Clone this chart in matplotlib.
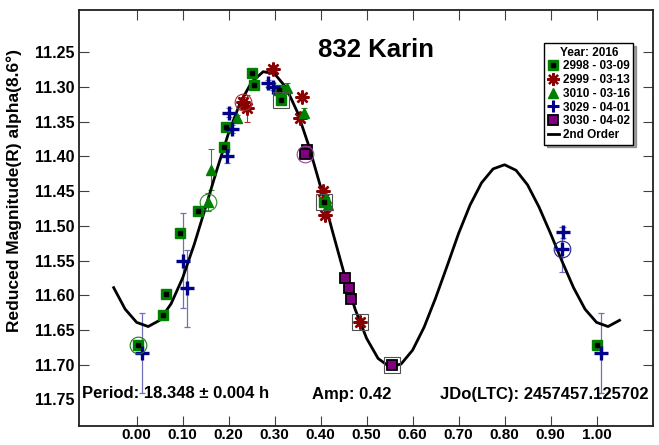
import matplotlib
matplotlib.use("Agg")
import matplotlib.pyplot as plt
from matplotlib.lines import Line2D

plt.rcParams['font.family'] = ['Liberation Sans', 'DejaVu Sans']
plt.rcParams['font.weight'] = 'bold'

# ---- fitted curve (2nd order) ----
curve_phase = [-0.05, -0.025, 0.0, 0.025, 0.05, 0.075, 0.1, 0.125, 0.15, 0.175,
               0.2, 0.225, 0.25, 0.275, 0.3, 0.325, 0.35, 0.375, 0.4, 0.425,
               0.45, 0.475, 0.5, 0.525, 0.55, 0.575, 0.6, 0.625, 0.65, 0.675,
               0.7, 0.725, 0.75, 0.775, 0.8, 0.825, 0.85, 0.875, 0.9, 0.925,
               0.95, 0.975, 1.0, 1.025, 1.05]
curve_mag = [11.589, 11.620, 11.639, 11.645, 11.636, 11.612, 11.575, 11.527, 11.473, 11.418,
             11.366, 11.323, 11.293, 11.278, 11.281, 11.301, 11.337, 11.386, 11.444, 11.506,
             11.566, 11.620, 11.662, 11.691, 11.703, 11.699, 11.679, 11.646, 11.604, 11.558,
             11.511, 11.470, 11.438, 11.418, 11.412, 11.420, 11.441, 11.473, 11.511, 11.551,
             11.589, 11.620, 11.639, 11.645, 11.636]

# ---- sessions ----
s2998_phase = [0.003, 1.002, 0.058, 0.064, 0.095, 0.134, 0.190, 0.194, 0.250, 0.255, 0.310, 0.313, 0.408]
s2998_mag   = [11.672, 11.671, 11.629, 11.598, 11.510, 11.479, 11.386, 11.358, 11.280, 11.297, 11.305, 11.319, 11.466]
s2998_err   = [0.006, 0.006, 0.004, 0.004, 0.005, 0.004, 0.004, 0.004, 0.004, 0.004, 0.004, 0.004, 0.004]

s2999_phase = [0.232, 0.239, 0.296, 0.359, 0.355, 0.405, 0.410, 0.485]
s2999_mag   = [11.321, 11.331, 11.274, 11.314, 11.345, 11.450, 11.485, 11.638]
s2999_err   = [0.006, 0.020, 0.005, 0.004, 0.004, 0.004, 0.004, 0.006]

s3010_phase = [0.156, 0.161, 0.219, 0.327, 0.364, 0.412, 0.415]
s3010_mag   = [11.465, 11.419, 11.345, 11.302, 11.337, 11.460, 11.470]
s3010_err   = [0.013, 0.030, 0.005, 0.008, 0.006, 0.005, 0.005]

s3029_phase = [0.011, 1.009, 0.101, 0.110, 0.197, 0.201, 0.207, 0.286, 0.297, 0.927, 0.925]
s3029_mag   = [11.683, 11.683, 11.550, 11.590, 11.400, 11.337, 11.361, 11.295, 11.300, 11.509, 11.534]
s3029_err   = [0.058, 0.058, 0.068, 0.055, 0.010, 0.006, 0.006, 0.005, 0.005, 0.008, 0.032]

s3030_phase = [0.370, 0.366, 0.454, 0.461, 0.465, 0.555]
s3030_mag   = [11.391, 11.396, 11.575, 11.590, 11.605, 11.701]
s3030_err   = [0.004, 0.004, 0.004, 0.004, 0.004, 0.004]

# highlighted points (circled / boxed)
circ_phase = [0.003, 0.232, 0.156, 0.925, 0.366]
circ_mag   = [11.672, 11.321, 11.465, 11.534, 11.396]
circ_color = ['#1a7a1a', '#a03030', '#2a8a2a', '#202090', '#a040a0']
box_phase  = [0.313, 0.408, 0.485, 0.555]
box_mag    = [11.319, 11.466, 11.638, 11.701]

x_ticks = [0.0, 0.1, 0.2, 0.3, 0.4, 0.5, 0.6, 0.7, 0.8, 0.9, 1.0]
y_ticks = [11.25, 11.30, 11.35, 11.40, 11.45, 11.50, 11.55, 11.60, 11.65, 11.70, 11.75]

W, H = 659, 445
fig = plt.figure(figsize=(W / 100, H / 100), dpi=100)
ax_bottom_px = 425.5
ax = fig.add_axes([79 / W, 1 - ax_bottom_px / H, (652.5 - 79) / W, (ax_bottom_px - 10.3) / H])

GREEN = '#008000'
RED = '#8b0000'
BLUE = '#00008b'
PURPLE = '#800080'

# error bars
ax.errorbar(s2998_phase, s2998_mag, yerr=s2998_err, fmt='none', ecolor='#303030', elinewidth=0.7, capsize=2.5, capthick=0.7, zorder=2)
ax.errorbar(s2999_phase, s2999_mag, yerr=s2999_err, fmt='none', ecolor='#b03030', elinewidth=0.8, capsize=2.5, capthick=0.8, zorder=2)
ax.errorbar(s3010_phase, s3010_mag, yerr=s3010_err, fmt='none', ecolor='#209020', elinewidth=0.8, capsize=2.5, capthick=0.8, zorder=2)
ax.errorbar(s3029_phase, s3029_mag, yerr=s3029_err, fmt='none', ecolor='#7070b8', elinewidth=0.9, capsize=2.5, capthick=0.9, zorder=2)
ax.errorbar(s3030_phase, s3030_mag, yerr=s3030_err, fmt='none', ecolor='#602060', elinewidth=0.7, capsize=2.5, capthick=0.7, zorder=2)

# curve
ax.plot(curve_phase, curve_mag, color='black', lw=2.0, zorder=3)

# markers
ax.plot(s2998_phase, s2998_mag, ls='none', marker='s', ms=7.5, mfc=GREEN, mec=GREEN, zorder=4)
ax.plot(s2998_phase, s2998_mag, ls='none', marker='s', ms=3.2, mfc='black', mec='black', zorder=5)
ax.plot(s2999_phase, s2999_mag, ls='none', marker=(8, 2, 0), ms=10, mec=RED, mew=1.7, zorder=4)
ax.plot(s3010_phase, s3010_mag, ls='none', marker='^', ms=7.5, mfc=GREEN, mec=GREEN, zorder=4)
ax.plot(s3029_phase, s3029_mag, ls='none', marker='+', ms=10, mec=BLUE, mew=2.4, zorder=4)
ax.plot(s3030_phase, s3030_mag, ls='none', marker='s', ms=7.5, mfc=PURPLE, mec='black', mew=1.3, zorder=4)

for p, m, c in zip(circ_phase, circ_mag, circ_color):
    ax.plot(p, m, ls='none', marker='o', ms=12, mfc='none', mec=c, mew=0.8, zorder=6)
ax.plot(box_phase, box_mag, ls='none', marker='s', ms=11, mfc='none', mec='#505050', mew=0.8, zorder=6)

ax.set_xlim(-0.1254, 1.1217)
ax.set_ylim(11.7875, 11.1896)

ax.set_xticks(x_ticks)
ax.set_xticklabels(['%.2f' % v for v in x_ticks])
ax.set_yticks(y_ticks)
ax.set_yticklabels(['%.2f' % v for v in y_ticks])
ax.tick_params(axis='both', direction='in', length=7, width=0.8, color='#404040',
               labelsize=11.5, top=True, right=True)
ax.tick_params(axis='x', pad=1.5, labelsize=11)
ax.tick_params(axis='y', pad=3)
for lab in ax.get_xticklabels() + ax.get_yticklabels():
    lab.set_fontweight('bold')
last = ax.yaxis.get_major_ticks()[-1]
last.tick1line.set_visible(False)
last.tick2line.set_visible(False)
for sp in ax.spines.values():
    sp.set_linewidth(1.3)
    sp.set_color('#202020')

ax.set_ylabel('Reduced Magnitude(R) alpha(8.6°)', fontsize=12.5, fontweight='bold')
ax.yaxis.set_label_coords((22 - 79) / (652.5 - 79), (ax_bottom_px - 190) / (ax_bottom_px - 10.3))

ax.text(0.52, 11.247, '832 Karin', fontsize=18.5, fontweight='bold', ha='center', va='center')

fig.text(82 / W, 1 - 394 / H, 'Period: 18.348 ± 0.004 h', fontsize=12, fontweight='bold', ha='left', va='center')
fig.text(312 / W, 1 - 394 / H, 'Amp: 0.42', fontsize=12, fontweight='bold', ha='left', va='center')
fig.text(648 / W, 1 - 394 / H, 'JDo(LTC): 2457457.125702', fontsize=12, fontweight='bold', ha='right', va='center')

handles = [
    (Line2D([], [], ls='none', marker='s', ms=7, mfc=GREEN, mec=GREEN),
     Line2D([], [], ls='none', marker='s', ms=3, mfc='black', mec='black')),
    Line2D([], [], ls='none', marker=(8, 2, 0), ms=9, mec=RED, mew=1.6),
    Line2D([], [], ls='none', marker='^', ms=7, mfc=GREEN, mec=GREEN),
    Line2D([], [], ls='none', marker='+', ms=9, mec=BLUE, mew=2.2),
    Line2D([], [], ls='none', marker='s', ms=7, mfc=PURPLE, mec='black', mew=1.3),
    Line2D([], [], color='black', lw=2),
]
labels = ['2998 - 03-09', '2999 - 03-13', '3010 - 03-16', '3029 - 04-01', '3030 - 04-02', '2nd Order']
leg = ax.legend(handles, labels, loc='upper left', bbox_to_anchor=(544 / W, 1 - 43 / H),
                bbox_transform=fig.transFigure, borderaxespad=0, title='Year: 2016',
                prop={'weight': 'bold', 'size': 8.5}, title_fontproperties={'weight': 'bold', 'size': 8.5},
                handlelength=1.0, handletextpad=0.3, labelspacing=0.15, borderpad=0.3,
                frameon=True, fancybox=False, shadow=True, framealpha=1)
leg.get_frame().set_edgecolor('black')
leg.get_frame().set_linewidth(1.0)

fig.savefig('out.png', dpi=100)
